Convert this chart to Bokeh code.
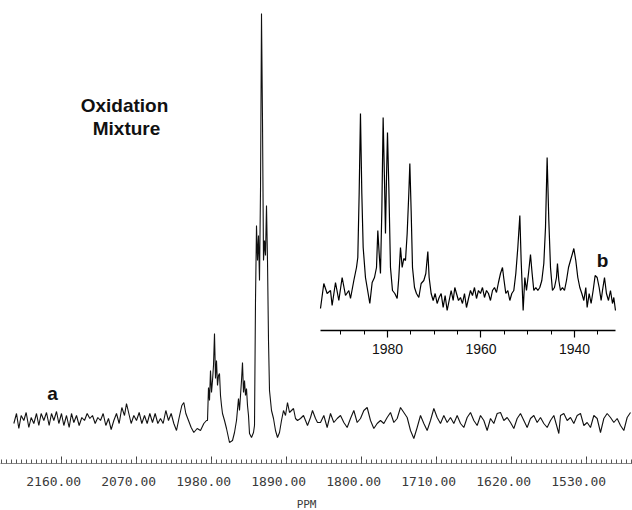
from bokeh.plotting import figure
from bokeh.models import Range1d, LinearAxis, FixedTicker, Label
from bokeh.embed import file_html
from bokeh.resources import INLINE

# ---------------- data ----------------
# main spectrum: chemical shift (ppm) and intensity (arbitrary units)
main_ppm = [
    2217.2, 2214.0, 2211.2, 2208.4, 2205.2, 2202.4, 2199.2, 2196.4, 2193.2, 2190.0,
    2187.2, 2184.4, 2181.2, 2178.0, 2174.8, 2172.0, 2169.2, 2166.0, 2163.2, 2160.0,
    2157.2, 2154.0, 2150.8, 2148.0, 2145.2, 2142.0, 2138.8, 2135.6, 2132.4, 2129.2,
    2126.0, 2122.8, 2119.6, 2116.4, 2113.2, 2110.0, 2106.8, 2103.6, 2100.4, 2097.2,
    2094.0, 2090.8, 2087.6, 2084.4, 2082.0, 2079.2, 2076.4, 2073.2, 2070.0, 2066.8,
    2063.6, 2060.4, 2057.2, 2054.0, 2050.8, 2047.6, 2044.4, 2041.2, 2038.0, 2034.8,
    2031.6, 2028.4, 2025.2, 2022.0, 2018.8, 2015.6, 2013.2, 2010.8, 2007.6, 2004.4,
    2001.2, 1997.2, 1993.2, 1989.2, 1986.0,
    1984.8, 1983.6, 1982.4, 1981.2, 1980.0, 1978.8, 1977.6, 1976.4, 1975.2, 1974.0,
    1972.8, 1971.6, 1970.4, 1969.2, 1968.0, 1966.8, 1964.4, 1962.0, 1958.4, 1954.8,
    1952.4, 1950.0, 1947.6, 1946.4, 1945.2, 1944.0, 1942.8, 1941.6, 1940.4, 1939.2,
    1938.0, 1936.8, 1935.6, 1934.4, 1932.0, 1929.6, 1928.4, 1927.2, 1926.0, 1924.8,
    1923.6, 1922.4, 1921.2, 1920.0, 1918.8, 1917.6, 1916.4, 1915.2, 1914.0, 1912.8,
    1911.6, 1910.4, 1908.0, 1905.6, 1903.2, 1900.8, 1898.4, 1896.0, 1893.6, 1891.2,
    1888.8, 1886.4, 1884.0, 1881.6, 1879.2, 1876.8, 1873.2, 1869.6, 1864.8, 1861.2,
    1858.8, 1855.2, 1852.8,
    1849.2, 1845.2, 1841.2, 1837.2, 1833.2, 1829.2, 1825.2, 1821.2, 1817.2, 1813.2,
    1809.2, 1805.2, 1801.2, 1797.2, 1793.2, 1789.2, 1785.2, 1781.2, 1777.2, 1773.2,
    1769.2, 1765.2, 1761.2, 1757.2, 1753.2, 1749.2, 1745.2, 1741.2, 1737.2, 1733.2,
    1729.2, 1725.2, 1721.2, 1717.2, 1713.2, 1709.2, 1705.2, 1701.2, 1697.2, 1693.2,
    1689.2, 1685.2, 1681.2, 1677.2, 1673.2, 1669.2, 1665.2, 1661.2, 1657.2, 1653.2,
    1649.2, 1645.2, 1641.2, 1637.2, 1633.2, 1629.2, 1625.2, 1621.2, 1617.2, 1613.2,
    1609.2, 1605.2, 1601.2, 1597.2, 1593.2, 1589.2, 1585.2, 1581.2, 1577.2, 1573.2,
    1569.2, 1565.2, 1563.2, 1561.2, 1557.2, 1553.2, 1549.2, 1545.2, 1541.2, 1537.2,
    1533.2, 1529.2, 1525.2, 1521.2, 1517.2, 1513.2, 1509.2, 1505.2, 1501.2, 1497.2,
    1493.2, 1489.2, 1485.2, 1481.2, 1477.2,
]
main_int = [
    7, 17, 2, 15, 10, 18, 3, 13, 7, 17,
    5, 17, 10, 18, 5, 17, 10, 19, 7, 17,
    5, 15, 3, 17, 8, 15, 5, 13, 10, 17,
    12, 15, 7, 13, 10, 17, 5, 12, 1, 10,
    17, 7, 23, 15, 27, 17, 7, 15, 10, 18,
    7, 15, 7, 17, 8, 17, 7, 12, 7, 20,
    10, 17, 7, 0, 13, 25, 28, 17, 10, 3,
    -2, 2, 0, 7, 10,
    10, 43, 30, 60, 38, 50, 65, 97, 52, 70,
    45, 55, 57, 35, 25, 17, 10, 2, -12, -10,
    -2, 10, 32, 20, 35, 50, 68, 38, 50, 35,
    42, 25, 15, -3, -7, -2, 5, 130, 205, 170,
    195, 150, 240, 417, 310, 170, 190, 175, 225, 170,
    90, 40, 20, 12, 0, -7, -2, 10, 20, 15,
    28, 18, 20, 22, 12, 10, 12, 15, 5, 13,
    20, 12, 8,
    8, 15, 3, 17, 8, 12, 15, 8, 3, 12,
    20, 8, 12, 20, 23, 10, 2, 7, 10, 7,
    13, 18, 8, 12, 23, 18, 13, 0, -8, 3,
    15, 7, 0, 10, 22, 13, 7, 15, 8, 13,
    7, 15, 7, 3, 13, 18, 10, 5, 15, 10,
    0, 12, 7, 17, 18, 10, 13, 8, 2, 12,
    17, 10, 3, 12, 15, 8, 13, 7, 3, 10,
    15, 3, -3, 15, 17, 10, 13, 7, 15, 17,
    5, 8, 3, 15, 12, -2, 12, 17, 13, 8,
    12, 5, 0, 13, 18,
]

# inset (b): expanded region
inset_ppm = [
    1994.33, 1993.62, 1992.91, 1992.19, 1991.84, 1991.12, 1990.41, 1989.70, 1988.98, 1988.27,
    1987.91, 1987.20, 1986.63, 1986.35, 1986.06, 1985.78, 1985.49, 1985.20, 1984.71, 1984.35,
    1983.78, 1983.28, 1982.78, 1982.35, 1982.07, 1981.78, 1981.50, 1981.21, 1980.93, 1980.64,
    1980.43, 1980.21, 1980.00, 1979.71, 1979.36, 1978.93, 1978.43, 1977.93, 1977.58, 1977.22,
    1976.86, 1976.51, 1976.15, 1975.79, 1975.44, 1975.22, 1974.94, 1974.65, 1974.22, 1973.80,
    1973.30, 1972.80, 1972.23, 1971.80, 1971.37, 1971.09, 1970.66, 1970.23, 1969.80, 1969.38,
    1968.95, 1968.52, 1968.09, 1967.67, 1967.24, 1966.81, 1966.38, 1965.95, 1965.60, 1965.24,
    1964.81, 1964.39, 1963.96, 1963.53, 1963.10, 1962.67, 1962.25, 1961.82, 1961.39, 1960.96,
    1960.54, 1960.11, 1959.68, 1959.25, 1958.82, 1958.40, 1957.97, 1957.54, 1957.11, 1956.68,
    1956.26, 1955.83, 1955.40, 1955.12, 1954.69, 1954.26, 1953.83, 1953.41, 1952.98, 1952.55,
    1952.12, 1951.69, 1951.41, 1950.98, 1950.62, 1950.27, 1949.84, 1949.41, 1949.06, 1948.70,
    1948.27, 1947.84, 1947.42, 1946.99, 1946.56, 1946.20, 1945.85, 1945.49, 1945.13, 1944.71,
    1944.28, 1943.85, 1943.64, 1943.35, 1943.00, 1942.57, 1942.14, 1941.71, 1941.28, 1940.86,
    1940.43, 1940.14, 1939.72, 1939.29, 1938.86, 1938.43, 1938.00, 1937.58, 1937.29, 1936.86,
    1936.44, 1936.01, 1935.58, 1935.15, 1934.72, 1934.30, 1934.01, 1933.58, 1933.16, 1932.73,
    1932.30, 1931.87, 1931.59, 1931.23,
]
inset_int = [
    2, 27, 17, 20, 5, 28, 10, 33, 15, 20,
    12, 30, 43, 53, 117, 197, 117, 63, 33, 23,
    7, 28, 33, 43, 80, 57, 37, 100, 193, 130,
    77, 133, 178, 123, 43, 20, 17, 12, 33, 63,
    43, 52, 50, 77, 117, 147, 100, 43, 23, 17,
    13, 27, 30, 37, 59, 33, 17, 10, 17, 7,
    13, 17, 3, 15, 0, 10, 20, 10, 23, 17,
    10, 13, 7, 17, 3, 12, 20, 15, 23, 12,
    20, 17, 23, 13, 20, 17, 10, 20, 23, 18,
    28, 37, 43, 32, 17, 20, 10, 17, 20, 37,
    63, 95, 50, 0, 33, 20, 37, 56, 37, 20,
    23, 20, 23, 30, 47, 83, 153, 90, 43, 20,
    23, 33, 47, 30, 20, 23, 20, 30, 43, 50,
    57, 62, 50, 33, 23, 17, 10, 23, 3, 17,
    7, 20, 35, 33, 23, 10, 20, 33, 17, 10,
    20, 7, 13, 0,
]

main_ticks = [2160, 2070, 1980, 1890, 1800, 1710, 1620, 1530]
main_tick_labels = ["2160.00", "2070.00", "1980.00", "1890.00",
                    "1800.00", "1710.00", "1620.00", "1530.00"]
inset_ticks = [1980, 1960, 1940]
inset_minor = [1990, 1985, 1975, 1970, 1965, 1955, 1950, 1945, 1935]

# ---------------- figure ----------------
p = figure(frame_width=632, frame_height=463, output_backend="svg", toolbar_location=None,
           x_range=Range1d(2233.2, 1474.8), y_range=Range1d(-33, 430),
           y_axis_location=None,
           min_border_left=0, min_border_right=0, min_border_top=0, min_border_bottom=47)
p.extra_x_ranges = {"inset": Range1d(2062.78, 1927.59)}
p.extra_y_ranges = {"inset_y": Range1d(-153, 310)}
p.grid.visible = False
p.outline_line_color = None

# main axis
ax = p.xaxis[0]
ax.ticker = FixedTicker(ticks=main_ticks,
                        minor_ticks=[2160 - 6 * k for k in range(-12, 116)])
# labels sit slightly left of their ticks in the original print
ax.major_label_overrides = {t: lab + "\u00a0\u00a0" for t, lab in zip(main_ticks, main_tick_labels)}
ax.axis_line_color = "#888888"
ax.axis_line_width = 1
ax.major_tick_in = 7
ax.major_tick_out = 0
ax.minor_tick_in = 4
ax.minor_tick_out = 0
ax.major_tick_line_color = "#444444"
ax.minor_tick_line_color = "#555555"
ax.major_label_text_font = "DejaVu Sans Mono"
ax.major_label_text_font_size = "13px"
ax.major_label_text_color = "#3a3a3a"
ax.major_label_standoff = 10
ax.axis_label = "PPM\u00a0\u00a0\u00a0"
ax.axis_label_text_font = "DejaVu Sans Mono"
ax.axis_label_text_font_size = "11px"
ax.axis_label_text_font_style = "normal"
ax.axis_label_text_color = "#3a3a3a"
ax.axis_label_standoff = 6

# main spectrum
p.line(main_ppm, main_int, line_color="#111111", line_width=1.1)

# inset spectrum
p.line(inset_ppm, inset_int, x_range_name="inset", y_range_name="inset_y",
       line_color="black", line_width=1.2)

# inset axis (drawn at fixed location inside the frame)
ax2 = LinearAxis(x_range_name="inset", y_range_name="inset_y",
                 fixed_location=-20, bounds=(1931.2, 1994.3),
                 ticker=FixedTicker(ticks=inset_ticks, minor_ticks=inset_minor))
ax2.axis_line_color = "black"
ax2.axis_line_width = 1.5
ax2.major_tick_out = 7
ax2.major_tick_in = 0
ax2.minor_tick_out = 4
ax2.minor_tick_in = 0
ax2.major_tick_line_width = 1.2
ax2.major_label_text_font = "Liberation Sans"
ax2.major_label_text_font_size = "14px"
ax2.major_label_text_color = "#111111"
ax2.major_label_standoff = 6
p.add_layout(ax2, "below")

# annotations
for txt, x, y in [("Oxidation", 2084.4, 325), ("Mixture", 2082.0, 302)]:
    p.add_layout(Label(x=x, y=y, text=txt, text_font="Liberation Sans",
                       text_font_style="bold", text_font_size="19px",
                       text_align="center", text_baseline="middle", text_color="#111111"))
p.add_layout(Label(x=2170.8, y=37, text="a", text_font="Liberation Sans",
                   text_font_style="bold", text_font_size="19px",
                   text_align="center", text_baseline="middle", text_color="#111111"))
p.add_layout(Label(x=1934.0, y=50, x_range_name="inset", y_range_name="inset_y",
                   text="b", text_font="Liberation Sans",
                   text_font_style="bold", text_font_size="19px",
                   text_align="center", text_baseline="middle", text_color="#111111"))

open("out.html", "w").write(file_html(p, INLINE))
